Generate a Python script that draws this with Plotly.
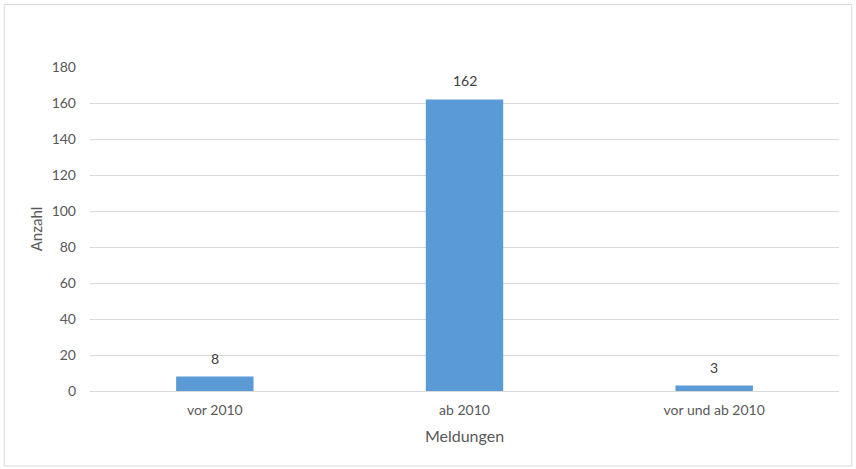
import plotly.graph_objects as go

categories = ["vor 2010", "ab 2010", "vor und ab 2010"]
values = [8, 162, 3]
y_ticks = [0, 20, 40, 60, 80, 100, 120, 140, 160, 180]

L, R, T, B = 90.25, 856 - 838.75, 67, 469 - 391
W, H = 856, 469
pw, ph = W - L - R, H - T - B

def px2x(p):
    return (p - L) / pw

def py2y(p):
    return (H - B - p) / ph

fig = go.Figure(go.Bar(
    x=categories, y=values, width=0.31,
    marker=dict(color="#5b9bd5", line=dict(width=0)),
))

for c, v in zip(categories, values):
    fig.add_annotation(x=c, y=v, text=str(v), showarrow=False, yanchor="bottom",
                       yshift=8, font=dict(color="#404040", size=14))

fig.update_layout(
    width=W, height=H,
    margin=dict(l=L, r=R, t=T, b=B),
    paper_bgcolor="white", plot_bgcolor="white",
    font=dict(family="Lato, Carlito, sans-serif", color="#595959", size=14),
    showlegend=False,
    xaxis=dict(showgrid=False, showline=False, ticks="", ticklabelstandoff=9,
               title=dict(text="Meldungen", font=dict(size=16, color="#595959"), standoff=13),
               tickfont=dict(size=14)),
    yaxis=dict(range=[0, 180], tickvals=y_ticks, showgrid=True, gridcolor="#d9d9d9",
               gridwidth=1, zeroline=True, zerolinecolor="#d9d9d9", zerolinewidth=1,
               showline=False, ticks="", ticklabelstandoff=13,
               title=dict(text="Anzahl", font=dict(size=15, color="#595959"), standoff=5),
               tickfont=dict(size=14)),
    shapes=[dict(type="rect", xref="paper", yref="paper",
                 x0=px2x(4.5), x1=px2x(851.5), y0=py2y(466), y1=py2y(4.5),
                 line=dict(color="#d9d9d9", width=1), fillcolor="rgba(0,0,0,0)", layer="below")],
)

fig.write_html("out.html")
